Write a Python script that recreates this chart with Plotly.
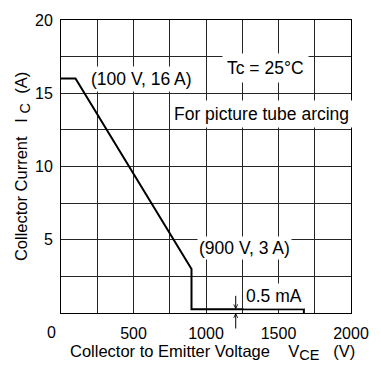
import plotly.graph_objects as go

# Safe operating area boundary (reverse bias, picture tube arcing)
vce_v = [0, 100, 900, 900, 1675, 1675]
ic_a = [16, 16, 3, 0.25, 0.25, 0]

x_ticks = [500, 1000, 1500, 2000]
y_ticks = [5, 10, 15, 20]
x_grid = 250
y_grid = 2.5

FONT = "Arial, Liberation Sans, sans-serif"
NB = "\u00a0"
GRID = "#262626"


def sub(s):
    return "<sub><span style='font-size:14.5px'>" + s + "</span></sub>"


fig = go.Figure()
fig.add_trace(go.Scatter(
    x=vce_v, y=ic_a, mode="lines",
    line=dict(color="black", width=2),
    hoverinfo="skip", showlegend=False, cliponaxis=False,
))

axis_common = dict(
    showgrid=True, gridcolor=GRID, gridwidth=1,
    showline=True, linecolor="black", linewidth=1, mirror=True,
    zeroline=False, ticks="", tickfont=dict(size=16, color="black", family=FONT),
    fixedrange=True,
)

fig.update_xaxes(
    range=[0, 2000], tickmode="array", tickvals=x_ticks,
    minor=dict(dtick=x_grid, tick0=0, showgrid=True, gridcolor=GRID, gridwidth=1, ticks=""),
    ticklabelstandoff=6,
    **axis_common,
)
fig.update_yaxes(
    range=[0, 20], tickmode="array", tickvals=y_ticks,
    minor=dict(dtick=y_grid, tick0=0, showgrid=True, gridcolor=GRID, gridwidth=1, ticks=""),
    ticklabelstandoff=4,
    **axis_common,
)

title_font = dict(size=16.5, color="black", family=FONT)

# axis titles
fig.add_annotation(
    text="Collector to Emitter Voltage" + NB * 4 + "V" + sub("CE") + NB * 3 + "(V)",
    xref="paper", yref="paper", x=0.023, y=0, xanchor="left", yanchor="middle",
    yshift=-39, showarrow=False, font=title_font,
)
fig.add_annotation(
    text="Collector Current" + NB * 3 + "I" + NB + sub("C") + NB * 2 + "(A)",
    xref="paper", yref="paper", x=-0.133, y=0.17, xanchor="center", yanchor="bottom",
    textangle=-90, showarrow=False, font=title_font,
)

ann_font = dict(size=17.5, color="black", family=FONT)
notes = [
    dict(x=553, y=16.0, text="(100 V, 16 A)", borderpad=2),
    dict(x=1413, y=16.72, text="Tc = 25°C", borderpad=4),
    dict(x=1380, y=13.6, text="For picture tube arcing", borderpad=3),
    dict(x=1267, y=4.43, text="(900 V, 3 A)", borderpad=1),
    dict(x=1471, y=1.14, text="0.5 mA", borderpad=2),
]
for n in notes:
    fig.add_annotation(x=n["x"], y=n["y"], xref="x", yref="y", text=n["text"],
                       showarrow=False, font=ann_font, bgcolor="white",
                       borderpad=n["borderpad"], xanchor="center", yanchor="middle")

# origin label
fig.add_annotation(x=0, y=0, xref="x", yref="y", text="0", showarrow=False,
                   font=dict(size=16, color="black", family=FONT),
                   xshift=-10, yshift=-19, xanchor="center", yanchor="middle")

# gap arrows marking the 0.5 mA level
fig.add_annotation(x=1205, y=0.25, xref="x", yref="y", ax=0, ay=-15, text="",
                   showarrow=True, arrowhead=5, arrowsize=0.8, arrowwidth=1,
                   arrowcolor="black")
fig.add_annotation(x=1205, y=0, xref="x", yref="y", ax=0, ay=17, text="",
                   showarrow=True, arrowhead=5, arrowsize=0.8, arrowwidth=1,
                   arrowcolor="black")

fig.update_layout(
    width=381, height=366,
    margin=dict(l=61, r=20, t=14, b=53),
    paper_bgcolor="white", plot_bgcolor="white",
    font=dict(family=FONT, color="black"),
)

fig.write_html("out.html", include_plotlyjs=True, config={"displayModeBar": False})
